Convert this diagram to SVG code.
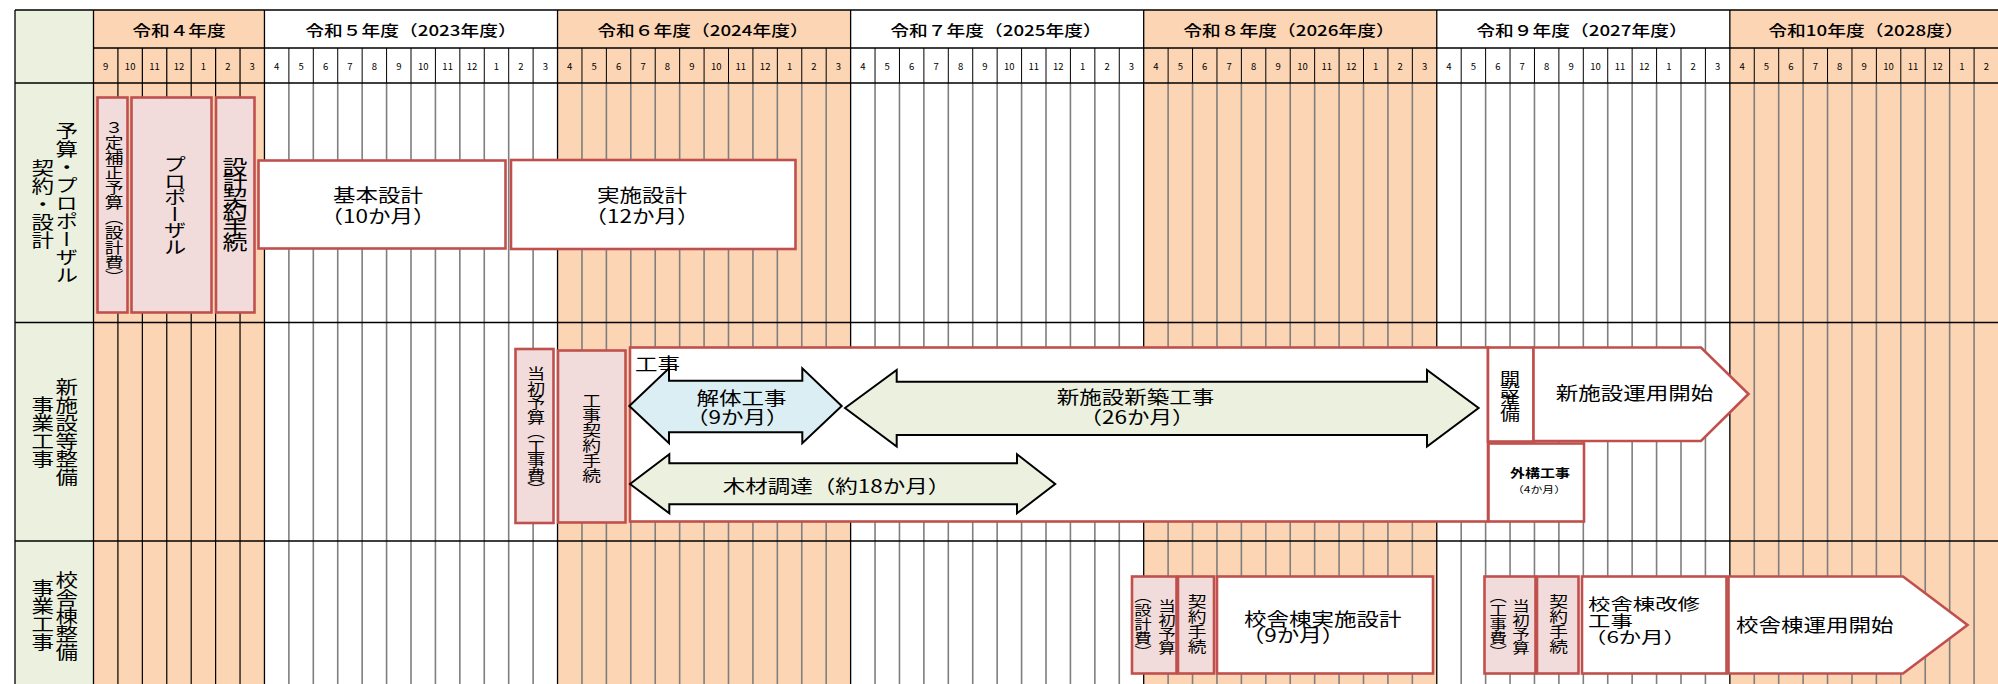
<svg xmlns="http://www.w3.org/2000/svg" width="1998" height="684" viewBox="0 0 1998 684">
<style>
.t{font-family:"Noto Sans CJK JP","Noto Sans",sans-serif;fill:#000;}
.v{writing-mode:vertical-rl;}
.c{text-anchor:middle;dominant-baseline:central;}
.s{text-anchor:start;dominant-baseline:central;}
.yr{font-size:15px;font-weight:500;}
.mo{font-size:9.5px;}
.f18{font-size:18px;}
.box{fill:#F2DCDB;stroke:#C0504D;stroke-width:2.6;}
.wbox{fill:#FFFFFF;stroke:#C0504D;stroke-width:2.6;}
.arr{stroke:#000;stroke-width:2;stroke-linejoin:miter;}
</style>
<rect width="1998" height="684" fill="#FFFFFF"/>
<g id="background">
  <rect x="15" y="10" width="78.5" height="674" fill="#EBF1DE"/>
  <rect x="93.5" y="10" width="170.96" height="674" fill="#FCD5B4"/>
  <rect x="557.54" y="10" width="293.08" height="674" fill="#FCD5B4"/>
  <rect x="1143.69" y="10" width="293.08" height="674" fill="#FCD5B4"/>
  <rect x="1729.85" y="10" width="268.65" height="674" fill="#FCD5B4"/>
</g>
<g id="grid" fill="none">
  <path stroke="#7F7F7F" stroke-width="1.6" d="M288.88 83V684M313.31 83V684M337.73 83V684M362.15 83V684M386.58 83V684M411 83V684M435.42 83V684M459.85 83V684M484.27 83V684M508.69 83V684M533.12 83V684M581.96 83V684M606.38 83V684M630.81 83V684M655.23 83V684M679.65 83V684M704.08 83V684M728.5 83V684M752.92 83V684M777.35 83V684M801.77 83V684M826.19 83V684M875.04 83V684M899.46 83V684M923.88 83V684M948.31 83V684M972.73 83V684M997.15 83V684M1021.58 83V684M1046 83V684M1070.42 83V684M1094.85 83V684M1119.27 83V684M1168.12 83V684M1192.54 83V684M1216.96 83V684M1241.38 83V684M1265.81 83V684M1290.23 83V684M1314.65 83V684M1339.08 83V684M1363.5 83V684M1387.92 83V684M1412.35 83V684M1461.19 83V684M1485.62 83V684M1510.04 83V684M1534.46 83V684M1558.88 83V684M1583.31 83V684M1607.73 83V684M1632.15 83V684M1656.58 83V684M1681 83V684M1705.42 83V684M1754.27 83V684M1778.69 83V684M1803.12 83V684M1827.54 83V684M1851.96 83V684M1876.38 83V684M1900.81 83V684M1925.23 83V684M1949.65 83V684M1974.08 83V684"/>
  <path stroke="#000" stroke-width="1.2" d="M117.92 48V684M142.35 48V684M166.77 48V684M191.19 48V684M215.62 48V684M240.04 48V684"/>
  <path stroke="#000" stroke-width="1" d="M288.88 48V83M313.31 48V83M337.73 48V83M362.15 48V83M386.58 48V83M411 48V83M435.42 48V83M459.85 48V83M484.27 48V83M508.69 48V83M533.12 48V83M581.96 48V83M606.38 48V83M630.81 48V83M655.23 48V83M679.65 48V83M704.08 48V83M728.5 48V83M752.92 48V83M777.35 48V83M801.77 48V83M826.19 48V83M875.04 48V83M899.46 48V83M923.88 48V83M948.31 48V83M972.73 48V83M997.15 48V83M1021.58 48V83M1046 48V83M1070.42 48V83M1094.85 48V83M1119.27 48V83M1168.12 48V83M1192.54 48V83M1216.96 48V83M1241.38 48V83M1265.81 48V83M1290.23 48V83M1314.65 48V83M1339.08 48V83M1363.5 48V83M1387.92 48V83M1412.35 48V83M1461.19 48V83M1485.62 48V83M1510.04 48V83M1534.46 48V83M1558.88 48V83M1583.31 48V83M1607.73 48V83M1632.15 48V83M1656.58 48V83M1681 48V83M1705.42 48V83M1754.27 48V83M1778.69 48V83M1803.12 48V83M1827.54 48V83M1851.96 48V83M1876.38 48V83M1900.81 48V83M1925.23 48V83M1949.65 48V83M1974.08 48V83"/>
  <path stroke="#000" stroke-width="1.3" d="M15 10V684M93.5 10V684M264.46 10V684M557.54 10V684M850.62 10V684M1143.69 10V684M1436.77 10V684M1729.85 10V684M15 10H1998M93.5 48H1998M15 83H1998M15 322.5H1998M15 541H1998"/>
</g>
<g id="header" class="t">
  <text class="c yr" transform="translate(179,29) scale(1.25,1)">令和４年度</text>
  <text class="c yr" transform="translate(411,29) scale(1.25,1)">令和５年度（2023年度）</text>
  <text class="c yr" transform="translate(703,29) scale(1.25,1)">令和６年度（2024年度）</text>
  <text class="c yr" transform="translate(996,29) scale(1.25,1)">令和７年度（2025年度）</text>
  <text class="c yr" transform="translate(1289,29) scale(1.25,1)">令和８年度（2026年度）</text>
  <text class="c yr" transform="translate(1582,29) scale(1.25,1)">令和９年度（2027年度）</text>
  <text class="c yr" transform="translate(1866,29) scale(1.25,1)">令和10年度（2028度）</text>
  <g class="c mo">
    <text x="105.71" y="65.5">9</text><text x="130.14" y="65.5">10</text><text x="154.56" y="65.5">11</text><text x="178.98" y="65.5">12</text><text x="203.41" y="65.5">1</text><text x="227.83" y="65.5">2</text><text x="252.25" y="65.5">3</text>
    <text x="276.67" y="65.5">4</text><text x="301.1" y="65.5">5</text><text x="325.52" y="65.5">6</text><text x="349.94" y="65.5">7</text><text x="374.37" y="65.5">8</text><text x="398.79" y="65.5">9</text><text x="423.21" y="65.5">10</text><text x="447.64" y="65.5">11</text><text x="472.06" y="65.5">12</text><text x="496.48" y="65.5">1</text><text x="520.91" y="65.5">2</text><text x="545.33" y="65.5">3</text>
    <text x="569.75" y="65.5">4</text><text x="594.17" y="65.5">5</text><text x="618.6" y="65.5">6</text><text x="643.02" y="65.5">7</text><text x="667.44" y="65.5">8</text><text x="691.87" y="65.5">9</text><text x="716.29" y="65.5">10</text><text x="740.71" y="65.5">11</text><text x="765.14" y="65.5">12</text><text x="789.56" y="65.5">1</text><text x="813.98" y="65.5">2</text><text x="838.41" y="65.5">3</text>
    <text x="862.83" y="65.5">4</text><text x="887.25" y="65.5">5</text><text x="911.67" y="65.5">6</text><text x="936.1" y="65.5">7</text><text x="960.52" y="65.5">8</text><text x="984.94" y="65.5">9</text><text x="1009.37" y="65.5">10</text><text x="1033.79" y="65.5">11</text><text x="1058.21" y="65.5">12</text><text x="1082.64" y="65.5">1</text><text x="1107.06" y="65.5">2</text><text x="1131.48" y="65.5">3</text>
    <text x="1155.9" y="65.5">4</text><text x="1180.33" y="65.5">5</text><text x="1204.75" y="65.5">6</text><text x="1229.17" y="65.5">7</text><text x="1253.6" y="65.5">8</text><text x="1278.02" y="65.5">9</text><text x="1302.44" y="65.5">10</text><text x="1326.87" y="65.5">11</text><text x="1351.29" y="65.5">12</text><text x="1375.71" y="65.5">1</text><text x="1400.14" y="65.5">2</text><text x="1424.56" y="65.5">3</text>
    <text x="1448.98" y="65.5">4</text><text x="1473.4" y="65.5">5</text><text x="1497.83" y="65.5">6</text><text x="1522.25" y="65.5">7</text><text x="1546.67" y="65.5">8</text><text x="1571.1" y="65.5">9</text><text x="1595.52" y="65.5">10</text><text x="1619.94" y="65.5">11</text><text x="1644.37" y="65.5">12</text><text x="1668.79" y="65.5">1</text><text x="1693.21" y="65.5">2</text><text x="1717.64" y="65.5">3</text>
    <text x="1742.06" y="65.5">4</text><text x="1766.48" y="65.5">5</text><text x="1790.9" y="65.5">6</text><text x="1815.33" y="65.5">7</text><text x="1839.75" y="65.5">8</text><text x="1864.17" y="65.5">9</text><text x="1888.6" y="65.5">10</text><text x="1913.02" y="65.5">11</text><text x="1937.44" y="65.5">12</text><text x="1961.87" y="65.5">1</text><text x="1986.29" y="65.5">2</text>
  </g>
</g>
<g id="row-labels" class="t">
  <text class="v c f18" transform="translate(66.7,203) scale(1.25,1)">予算・プロポーザル</text>
  <text class="v c f18" transform="translate(42.7,204.5) scale(1.25,1)">契約・設計</text>
  <text class="v c f18" transform="translate(66.7,432) scale(1.25,1)">新施設等整備</text>
  <text class="v c f18" transform="translate(42.7,432) scale(1.25,1)">事業工事</text>
  <text class="v c f18" transform="translate(66.7,616) scale(1.25,1)">校舎棟整備</text>
  <text class="v c f18" transform="translate(42.7,615.5) scale(1.25,1)">事業工事</text>
</g>
<g id="n-hosei" class="t">
  <rect class="box" x="97.5" y="97.5" width="30" height="215"/>
  <text class="v c" style="font-size:15px" transform="translate(114,202.5) scale(1.25,1)">３定補正予算（設計費）</text>
</g>
<g id="n-proposal" class="t">
  <rect class="box" x="131.5" y="97.5" width="80" height="215"/>
  <text class="v c f18" style="letter-spacing:-1.5px" transform="translate(175,205) scale(1.25,1)">プロポーザル</text>
</g>
<g id="n-sekkei-keiyaku" class="t">
  <rect class="box" x="216" y="97.5" width="38.5" height="215"/>
  <text class="v c" style="font-size:20px;letter-spacing:-5px" transform="translate(235,202.5) scale(1.25,1)">設計契約手続</text>
</g>
<g id="n-kihon" class="t">
  <rect class="wbox" x="258.5" y="160.5" width="247" height="88"/>
  <text class="c f18" transform="translate(378,194) scale(1.25,1)">基本設計</text>
  <text class="c f18" transform="translate(378,215.5) scale(1.25,1)">（10か月）</text>
</g>
<g id="n-jisshi" class="t">
  <rect class="wbox" x="511" y="160" width="284.5" height="89"/>
  <text class="c f18" transform="translate(642,194) scale(1.25,1)">実施設計</text>
  <text class="c f18" transform="translate(642,215.5) scale(1.25,1)">（12か月）</text>
</g>
<g id="n-tosho-koji" class="t">
  <rect class="box" x="515.5" y="349" width="38" height="174"/>
  <text class="v c" style="font-size:14.5px" transform="translate(536,431.7) scale(1.25,1)">当初予算（工事費）</text>
</g>
<g id="n-koji-keiyaku" class="t">
  <rect class="box" x="558" y="350.5" width="67.5" height="172"/>
  <text class="v c" style="font-size:15px" transform="translate(591.7,437.5) scale(1.25,1)">工事契約手続</text>
</g>
<g id="n-koji" class="t">
  <rect class="wbox" x="630" y="347.5" width="858" height="174"/>
  <text class="s f18" transform="translate(635,363) scale(1.25,1)">工事</text>
</g>
<g id="connectors">
  <polygon class="arr" fill="#DAEEF3" points="629.3,406 669,368.3 669,380.7 802.3,380.7 802.3,368.3 841.7,406 802.3,443.3 802.3,432.3 669,432.3 669,443.3"/>
  <polygon class="arr" fill="#EBF1DE" points="845,408 896.7,370 896.7,381.7 1427,381.7 1427,370 1478.6,408 1427,446.5 1427,435 896.7,435 896.7,446.5"/>
  <polygon class="arr" fill="#EBF1DE" points="630,484 669.3,454.3 669.3,463.3 1017,463.3 1017,454.3 1055.2,484 1017,513.3 1017,504.3 669.3,504.3 669.3,513.3"/>
</g>
<g id="n-kaitai-label" class="t">
  <text class="s f18" transform="translate(696.5,397) scale(1.25,1)">解体工事</text>
  <text class="s f18" transform="translate(686,416) scale(1.25,1)">（9か月）</text>
</g>
<g id="n-shinchiku-label" class="t">
  <text class="c f18" transform="translate(1135.5,396.5) scale(1.25,1)">新施設新築工事</text>
  <text class="c f18" transform="translate(1137,416) scale(1.25,1)">（26か月）</text>
</g>
<g id="n-mokuzai-label" class="t">
  <text class="c f18" transform="translate(836.5,485) scale(1.25,1)">木材調達（約18か月）</text>
</g>
<g id="n-kaisetsu" class="t">
  <rect class="wbox" x="1488" y="347.5" width="45.5" height="94"/>
  <text class="v c" style="font-size:16px;letter-spacing:-4px" transform="translate(1510,394) scale(1.25,1)">開設準備</text>
</g>
<g id="n-shin-unyo" class="t">
  <polygon class="wbox" points="1533.5,347.5 1701,347.5 1748.5,394 1701,441 1533.5,441"/>
  <text class="c f18" transform="translate(1634.5,392) scale(1.25,1)">新施設運用開始</text>
</g>
<g id="n-gaiko" class="t">
  <rect class="wbox" x="1488.5" y="443.5" width="95.5" height="78"/>
  <text class="c" style="font-size:12px;font-weight:bold" transform="translate(1540,473) scale(1.25,1)">外構工事</text>
  <text class="c" style="font-size:9.5px" transform="translate(1539,489) scale(1.25,1)">（4か月）</text>
</g>
<g id="n-kosha-tosho1" class="t">
  <rect class="box" x="1132" y="576.5" width="44.5" height="97"/>
  <text class="v c" style="font-size:14px" transform="translate(1167,626.5) scale(1.25,1)">当初予算</text>
  <text class="v c" style="font-size:14px" transform="translate(1143,623.5) scale(1.25,1)">（設計費）</text>
</g>
<g id="n-kosha-keiyaku1" class="t">
  <rect class="box" x="1178" y="576.5" width="36" height="97"/>
  <text class="v c" style="font-size:15px" transform="translate(1197,624) scale(1.25,1)">契約手続</text>
</g>
<g id="n-kosha-jisshi" class="t">
  <rect class="wbox" x="1217" y="576.5" width="216" height="97"/>
  <text class="c f18" transform="translate(1322.8,618) scale(1.25,1)">校舎棟実施設計</text>
  <text class="c f18" transform="translate(1293,634) scale(1.25,1)">（9か月）</text>
</g>
<g id="n-kosha-tosho2" class="t">
  <rect class="box" x="1484.5" y="576.5" width="51" height="97"/>
  <text class="v c" style="font-size:14px" transform="translate(1521,626.5) scale(1.25,1)">当初予算</text>
  <text class="v c" style="font-size:14px" transform="translate(1498.3,623.5) scale(1.25,1)">（工事費）</text>
</g>
<g id="n-kosha-keiyaku2" class="t">
  <rect class="box" x="1537" y="576.5" width="41.5" height="97"/>
  <text class="v c" style="font-size:15px" transform="translate(1558.5,624) scale(1.25,1)">契約手続</text>
</g>
<g id="n-kosha-kaishu" class="t">
  <rect class="wbox" x="1582" y="576.5" width="144.5" height="97"/>
  <text class="s" style="font-size:16px" transform="translate(1588,603.5) scale(1.4,1)">校舎棟改修</text>
  <text class="s" style="font-size:16px" transform="translate(1588,620) scale(1.4,1)">工事</text>
  <text class="s" style="font-size:16px" transform="translate(1584,636) scale(1.4,1)">（6か月）</text>
</g>
<g id="n-kosha-unyo" class="t">
  <polygon class="wbox" points="1728.5,576.5 1903,576.5 1967.5,625 1903,673.5 1728.5,673.5"/>
  <text class="s f18" transform="translate(1736,624.3) scale(1.25,1)">校舎棟運用開始</text>
</g>
</svg>
